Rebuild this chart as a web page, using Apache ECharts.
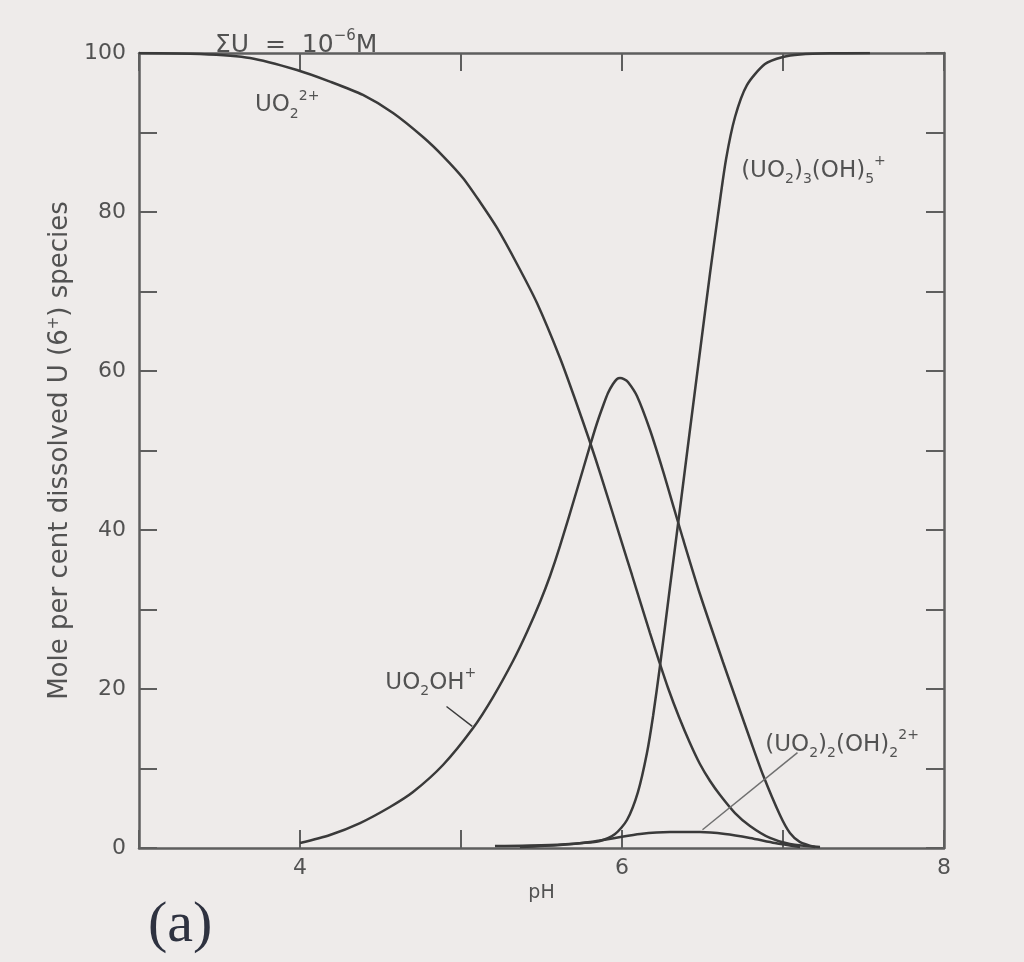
<!DOCTYPE html>
<html>
<head>
<meta charset="utf-8">
<script src="https://cdn.jsdelivr.net/npm/echarts@6/dist/echarts.min.js"></script>
<style>
html,body{margin:0;padding:0;background:#eeebea;}
#c{width:1024px;height:962px;}
</style>
</head>
<body>
<div id="c"></div>
<script>
// pH values and mole percent for each species
const uo2PH   = [3.0, 3.379, 3.689, 3.981, 4.186, 4.391, 4.578, 4.764, 4.888, 5.012, 5.118, 5.224, 5.348, 5.472, 5.615, 5.708, 5.801, 5.870, 5.938, 6.0, 6.062, 6.118, 6.174, 6.230, 6.286, 6.354, 6.422, 6.484, 6.547, 6.609, 6.702, 6.795, 6.919, 7.043, 7.23];
const uo2Val  = [100, 99.87, 99.37, 97.86, 96.4, 94.72, 92.45, 89.43, 87.04, 84.28, 81.26, 77.99, 73.46, 68.55, 61.64, 56.48, 51.07, 46.79, 42.39, 38.36, 34.34, 30.69, 27.04, 23.52, 20.13, 16.48, 13.21, 10.57, 8.43, 6.67, 4.4, 2.77, 1.26, 0.5, 0.13];

const uo2ohPH  = [4.0, 4.186, 4.373, 4.559, 4.702, 4.888, 5.075, 5.199, 5.323, 5.41, 5.491, 5.553, 5.615, 5.72, 5.801, 5.845, 5.882, 5.913, 5.944, 5.969, 5.988, 6.012, 6.037, 6.093, 6.174, 6.255, 6.317, 6.379, 6.484, 6.627, 6.714, 6.795, 6.876, 6.981, 7.043, 7.106, 7.199];
const uo2ohVal = [0.63, 1.64, 3.14, 5.16, 7.04, 10.44, 15.09, 18.99, 23.52, 27.17, 30.94, 34.21, 37.99, 45.03, 50.57, 53.46, 55.6, 57.23, 58.36, 58.99, 59.12, 58.99, 58.62, 56.86, 52.58, 47.42, 43.14, 38.87, 31.95, 23.4, 18.36, 13.71, 9.18, 4.15, 1.89, 0.75, 0.13];

const trimerPH  = [5.211, 5.553, 5.758, 5.863, 5.957, 6.031, 6.099, 6.155, 6.193, 6.236, 6.298, 6.36, 6.422, 6.484, 6.547, 6.596, 6.646, 6.702, 6.776, 6.888, 7.0, 7.106, 7.292, 7.54];
const trimerVal = [0.25, 0.38, 0.63, 0.88, 1.76, 3.52, 7.04, 11.95, 16.6, 22.89, 32.83, 42.64, 52.58, 62.39, 72.33, 79.6, 86.6, 91.95, 95.97, 98.62, 99.5, 99.81, 99.96, 100];

const dimerPH  = [5.366, 5.615, 5.801, 5.957, 6.112, 6.298, 6.484, 6.64, 6.795, 6.95, 7.106];
const dimerVal = [0.13, 0.38, 0.75, 1.26, 1.76, 2.0, 2.0, 1.76, 1.26, 0.63, 0.13];

const xTicks = [4, 6, 8];
const yTicks = [0, 20, 40, 60, 80, 100];

function pairs(xs, ys){ return xs.map((x,i)=>[x, ys[i]]); }

const LINE = '#3a3a3a';
const AX = '#5e5e5e';
const TXT = '#525252';
const FONT = 'DejaVu Sans';
const rich = {
  n:   {fontSize: 23, color: TXT, fontFamily: FONT, fontWeight: 'normal', lineHeight: 32, verticalAlign: 'middle'},
  sub: {fontSize: 14, color: TXT, fontFamily: FONT, fontWeight: 'normal', lineHeight: 14, verticalAlign: 'bottom'},
  sup: {fontSize: 14, color: TXT, fontFamily: FONT, fontWeight: 'normal', lineHeight: 14, verticalAlign: 'top'}
};
const richTitle = {
  n:   {fontSize: 25, color: TXT, fontFamily: FONT, fontWeight: 'normal', lineHeight: 32, verticalAlign: 'middle'},
  sup: {fontSize: 15, color: TXT, fontFamily: FONT, fontWeight: 'normal', lineHeight: 15, verticalAlign: 'top'}
};
function annot(coord, text){
  return {
    symbol: 'circle', symbolSize: 0, silent: true,
    data: [{coord: coord, value: 0}],
    label: {show: true, position: [0, 0], align: 'left', verticalAlign: 'middle', formatter: text, rich: rich}
  };
}
const lineStyle = {color: LINE, width: 2.5};
const tick = {inside: true, length: 18, lineStyle: {color: AX, width: 2}};
const axLine = {onZero: false, lineStyle: {color: AX, width: 2.5}};

const chart = echarts.init(document.getElementById('c'), null, {renderer: 'canvas'});
chart.setOption({
  backgroundColor: '#eeebea',
  animation: false,
  title: [
    {text: '{n|ΣU  =  10}{sup|−6}{n|M}', left: 210, top: 24, textStyle: {fontWeight: 'normal', rich: richTitle}},
    {text: '(a)', left: 143, top: 892, textStyle: {fontFamily: 'Liberation Serif', fontSize: 58, fontWeight: 'normal', color: '#2e3240'}}
  ],
  grid: {left: 139, right: 80, top: 53, bottom: 114},
  xAxis: [{
    type: 'value', min: 3, max: 8, interval: 1,
    name: 'pH', nameLocation: 'middle', nameGap: 34,
    nameTextStyle: {fontSize: 19, color: TXT, fontFamily: FONT},
    axisLine: axLine, axisTick: tick,
    axisLabel: {fontSize: 22, color: TXT, fontFamily: FONT, margin: 9,
      formatter: v => xTicks.indexOf(v) >= 0 ? String(v) : ''},
    splitLine: {show: false}
  }, {
    type: 'value', min: 3, max: 8, interval: 1, position: 'top',
    axisLine: axLine, axisTick: tick,
    axisLabel: {show: false}, splitLine: {show: false}
  }],
  yAxis: [{
    type: 'value', min: 0, max: 100, interval: 10,
    name: 'Mole per cent dissolved U (6{sup|+}) species',
    nameLocation: 'middle', nameGap: 51, nameRotate: 90,
    nameTextStyle: {fontSize: 26, color: TXT, fontFamily: FONT, rich: {
      sup: {fontSize: 15, color: TXT, fontFamily: FONT, verticalAlign: 'top', lineHeight: 15}}},
    axisLine: axLine, axisTick: tick,
    axisLabel: {fontSize: 22, color: TXT, fontFamily: FONT, margin: 13,
      formatter: v => yTicks.indexOf(v) >= 0 ? String(v) : ''},
    splitLine: {show: false}
  }, {
    type: 'value', min: 0, max: 100, interval: 10, position: 'right',
    axisLine: axLine, axisTick: tick,
    axisLabel: {show: false}, splitLine: {show: false}
  }],
  series: [
    {type: 'line', name: 'UO2 2+', data: pairs(uo2PH, uo2Val), smooth: 0.25, showSymbol: false, lineStyle: lineStyle,
     markPoint: annot([3.72, 93.4], '{n|UO}{sub|2}{sup|2+}')},
    {type: 'line', name: 'UO2OH+', data: pairs(uo2ohPH, uo2ohVal), smooth: 0.25, showSymbol: false, lineStyle: lineStyle,
     markPoint: annot([4.53, 20.8], '{n|UO}{sub|2}{n|OH}{sup|+}'),
     markLine: {symbol: 'none', silent: true, label: {show: false}, lineStyle: {color: LINE, width: 1.5, type: 'solid'},
       data: [[{coord: [4.91, 17.8]}, {coord: [5.07, 15.3]}]]}},
    {type: 'line', name: '(UO2)3(OH)5+', data: pairs(trimerPH, trimerVal), smooth: 0.25, showSymbol: false, lineStyle: lineStyle,
     markPoint: annot([6.74, 85.2], '{n|(UO}{sub|2}{n|)}{sub|3}{n|(OH)}{sub|5}{sup|+}')},
    {type: 'line', name: '(UO2)2(OH)2 2+', data: pairs(dimerPH, dimerVal), smooth: 0.25, showSymbol: false, lineStyle: lineStyle,
     markPoint: annot([6.89, 13.0], '{n|(UO}{sub|2}{n|)}{sub|2}{n|(OH)}{sub|2}{sup|2+}'),
     markLine: {symbol: 'none', silent: true, label: {show: false}, lineStyle: {color: '#707070', width: 1.5, type: 'solid'},
       data: [[{coord: [6.50, 2.3]}, {coord: [7.09, 12.0]}]]}}
  ]
});
</script>
</body>
</html>
